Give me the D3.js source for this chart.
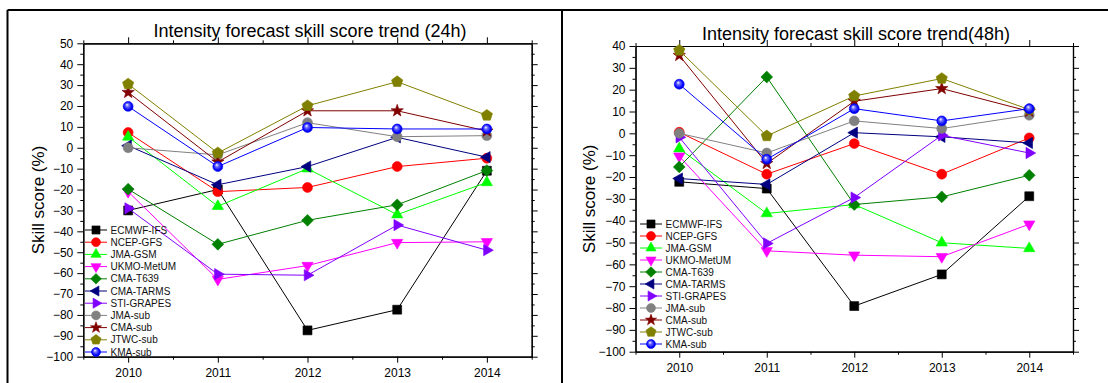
<!DOCTYPE html>
<html><head><meta charset="utf-8">
<script src="https://cdn.jsdelivr.net/npm/d3@7"></script>
<style>
html,body{margin:0;padding:0;background:#fff;}
svg{display:block;font-family:"Liberation Sans",Arial,sans-serif;}
</style></head>
<body>
<svg id="chart" width="1108" height="383"></svg>
<script>
// ---------- data ----------
const years = [2010, 2011, 2012, 2013, 2014];
const seriesNames = ["ECMWF-IFS","NCEP-GFS","JMA-GSM","UKMO-MetUM","CMA-T639","CMA-TARMS","STI-GRAPES","JMA-sub","CMA-sub","JTWC-sub","KMA-sub"];
const seriesColors = ["#000000","#ff0000","#00ff00","#ff00ff","#008000","#000080","#8000ff","#808080","#800000","#808000","#0000ff"];
const seriesMarkers = ["square","circle","triUp","triDown","diamond","triLeft","triRight","circle","star","pentagon","sphere"];

// 24h skill scores (%)
const ecmwf24 = [-30, -20, -87.4, -77.5, -11];
const ncep24  = [7.3, -21, -19, -9, -5];
const jmaGsm24 = [5.2, -28, -10, -32, -16.6];
const ukmo24  = [-21, -63, -56.4, -45.4, -45];
const t639_24 = [-19.8, -46.2, -34.7, -27.3, -10.9];
const tarms24 = [1, -17.7, -9, 5, -4.5];
const grapes24 = [-29, -60.5, -61, -37, -49];
const jmaSub24 = [0, -3.4, 12, 5.3, 5.8];
const cmaSub24 = [26.5, -6.8, 17.7, 17.7, 8];
const jtwc24  = [30.5, -2.5, 20.1, 31.6, 15.5];
const kma24   = [19.8, -9, 9.7, 9, 9];

// 48h skill scores (%)
const ecmwf48 = [-22.2, -25.3, -79.1, -64.6, -28.8];
const ncep48  = [0.5, -18.7, -4.7, -18.7, -2.1];
const jmaGsm48 = [-7, -36.7, -32.6, -50.1, -52.7];
const ukmo48  = [-10.5, -53.8, -55.8, -56.5, -41.6];
const t639_48 = [-15.4, 25.8, -32.6, -29.1, -19.2];
const tarms48 = [-20.7, -23.4, 0.3, -1.6, -4.4];
const grapes48 = [-1.8, -50.4, -29.4, -0.9, -9];
const jmaSub48 = [0, -9, 5.7, 2.2, 8.3];
const cmaSub48 = [35.7, -13.8, 14.7, 20.5, 10.1];
const jtwc48  = [38, -1.2, 17.1, 25.1, 10.9];
const kma48   = [22.5, -11.9, 11.3, 5.7, 11.3];

const values24 = [ecmwf24, ncep24, jmaGsm24, ukmo24, t639_24, tarms24, grapes24, jmaSub24, cmaSub24, jtwc24, kma24];
const values48 = [ecmwf48, ncep48, jmaGsm48, ukmo48, t639_48, tarms48, grapes48, jmaSub48, cmaSub48, jtwc48, kma48];

const title24 = "Intensity forecast skill score trend (24h)";
const title48 = "Intensity forecast skill score trend(48h)";
const yLabel = "Skill score (%)";
const yTicks24 = [50,40,30,20,10,0,-10,-20,-30,-40,-50,-60,-70,-80,-90,-100];
const yTicks48 = [40,30,20,10,0,-10,-20,-30,-40,-50,-60,-70,-80,-90,-100];

// ---------- marker shapes (custom d3 symbol types; size = radius) ----------
function poly(ctx, pts){ ctx.moveTo(pts[0][0], pts[0][1]); for (let i=1;i<pts.length;i++) ctx.lineTo(pts[i][0], pts[i][1]); ctx.closePath(); }
function regular(r, n, startDeg){ const p=[]; for(let i=0;i<n;i++){const a=(startDeg+360*i/n)*Math.PI/180; p.push([r*Math.cos(a), r*Math.sin(a)]);} return p; }
const shapes = {
  square: {draw(ctx,r){ const h=r*0.72; poly(ctx,[[-h,-h],[h,-h],[h,h],[-h,h]]); }},
  circle: {draw(ctx,r){ const c=r*0.8; ctx.moveTo(c,0); ctx.arc(0,0,c,0,2*Math.PI); }},
  sphere: {draw(ctx,r){ const c=r*0.8; ctx.moveTo(c,0); ctx.arc(0,0,c,0,2*Math.PI); }},
  triUp: {draw(ctx,r){ poly(ctx, regular(r*1.05,3,-90)); }},
  triDown: {draw(ctx,r){ poly(ctx, regular(r*1.05,3,90)); }},
  triLeft: {draw(ctx,r){ poly(ctx, regular(r*1.05,3,180)); }},
  triRight: {draw(ctx,r){ poly(ctx, regular(r*1.05,3,0)); }},
  diamond: {draw(ctx,r){ const d=r*0.95; poly(ctx,[[0,-d],[d,0],[0,d],[-d,0]]); }},
  pentagon: {draw(ctx,r){ poly(ctx, regular(r*0.95,5,-90)); }},
  star: {draw(ctx,r){ const p=[]; for(let i=0;i<10;i++){const rr=i%2?r*0.42:r*1.05; const a=(-90+36*i)*Math.PI/180; p.push([rr*Math.cos(a), rr*Math.sin(a)]);} poly(ctx,p); }}
};

const svg = d3.select("#chart");
const defs = svg.append("defs");
const grad = defs.append("radialGradient").attr("id","sphereGrad").attr("cx","50%").attr("cy","50%").attr("r","55%").attr("fx","38%").attr("fy","32%");
grad.append("stop").attr("offset","0%").attr("stop-color","#ffffff");
grad.append("stop").attr("offset","30%").attr("stop-color","#6f6fff");
grad.append("stop").attr("offset","75%").attr("stop-color","#0000ff");
grad.append("stop").attr("offset","100%").attr("stop-color","#0000c0");

// outer frames
svg.append("line").attr("x1",7.5).attr("x2",1108).attr("y1",10).attr("y2",10).attr("stroke","#000").attr("stroke-width",2);
svg.append("line").attr("x1",7.5).attr("x2",7.5).attr("y1",10).attr("y2",383).attr("stroke","#000").attr("stroke-width",2);
svg.append("line").attr("x1",562).attr("x2",562).attr("y1",10).attr("y2",383).attr("stroke","#000").attr("stroke-width",2);

function drawMarker(g, name, color, x, y, r){
  const sym = d3.symbol().type(shapes[name]).size(r);
  g.append("path").attr("d", sym()).attr("transform", `translate(${x},${y})`)
    .attr("fill", name === "sphere" ? "url(#sphereGrad)" : color)
    .attr("stroke", name === "sphere" ? "#0000ff" : color).attr("stroke-width", 0.6);
}

function drawPanel(cfg){
  const x = d3.scaleLinear().domain([2009.5, 2014.5]).range([cfg.left, cfg.right]);
  const y = d3.scaleLinear().domain([cfg.yMin, cfg.yMax]).range([cfg.bottom, cfg.top]);
  const g = svg.append("g");
  const minorY = d3.range(cfg.yMin, cfg.yMax + 0.1, 5).filter(v => v % 10 !== 0);
  const minorX = [2009.5, 2010.5, 2011.5, 2012.5, 2013.5, 2014.5];

  const styleAxis = sel => { sel.select(".domain").attr("stroke","#000").attr("stroke-width",1.2); sel.selectAll(".tick line").attr("stroke","#000"); sel.selectAll("text").attr("font-family","Liberation Sans, Arial, sans-serif").attr("font-size",12).attr("fill","#000"); };

  // left axis
  g.append("g").attr("transform",`translate(${cfg.left},0)`)
    .call(d3.axisLeft(y).tickValues(cfg.yTicks).tickSize(6).tickSizeOuter(0).tickPadding(4).tickFormat(d3.format("d"))).call(styleAxis);
  g.append("g").attr("transform",`translate(${cfg.left},0)`)
    .call(d3.axisLeft(y).tickValues(minorY).tickSize(3).tickSizeOuter(0).tickFormat("")).call(styleAxis);
  // right axis
  g.append("g").attr("transform",`translate(${cfg.right},0)`)
    .call(d3.axisRight(y).tickValues(cfg.yTicks).tickSize(6).tickSizeOuter(0).tickFormat("")).call(styleAxis);
  g.append("g").attr("transform",`translate(${cfg.right},0)`)
    .call(d3.axisRight(y).tickValues(minorY).tickSize(3).tickSizeOuter(0).tickFormat("")).call(styleAxis);
  // bottom axis
  g.append("g").attr("transform",`translate(0,${cfg.bottom})`)
    .call(d3.axisBottom(x).tickValues(years).tickSize(6).tickSizeOuter(0).tickPadding(6).tickFormat(d3.format("d"))).call(styleAxis);
  g.append("g").attr("transform",`translate(0,${cfg.bottom})`)
    .call(d3.axisBottom(x).tickValues(minorX).tickSize(3).tickSizeOuter(0).tickFormat("")).call(styleAxis);
  // top axis
  g.append("g").attr("transform",`translate(0,${cfg.top})`)
    .call(d3.axisTop(x).tickValues(years).tickSize(6).tickSizeOuter(0).tickFormat("")).call(styleAxis);
  g.append("g").attr("transform",`translate(0,${cfg.top})`)
    .call(d3.axisTop(x).tickValues(minorX).tickSize(3).tickSizeOuter(0).tickFormat("")).call(styleAxis);

  // title
  g.append("text").attr("x",cfg.titleX).attr("y",cfg.titleY).attr("text-anchor","middle")
    .attr("font-size",18).attr("fill","#000").text(cfg.title);
  // y label
  g.append("text").attr("transform",`translate(${cfg.yLabelX},${(cfg.top+cfg.bottom)/2}) rotate(-90)`)
    .attr("text-anchor","middle").attr("dy","0.35em").attr("font-size",17).attr("fill","#000").text(yLabel);

  // series
  const line = d3.line().x((d,i)=>x(years[i])).y(d=>y(d));
  cfg.values.forEach((vals, si) => {
    g.append("path").attr("d", line(vals)).attr("fill","none").attr("stroke", seriesColors[si]).attr("stroke-width",1);
    vals.forEach((v,i) => drawMarker(g, seriesMarkers[si], seriesColors[si], x(years[i]), y(v), 6.2));
  });

  // legend
  const lg = g.append("g");
  seriesNames.forEach((nm, si) => {
    const ly = cfg.legY + si*cfg.legStep;
    lg.append("line").attr("x1",cfg.legX).attr("x2",cfg.legX+22).attr("y1",ly).attr("y2",ly).attr("stroke",seriesColors[si]).attr("stroke-width",1);
    drawMarker(lg, seriesMarkers[si], seriesColors[si], cfg.legX+11, ly, 5.6);
    lg.append("text").attr("x",cfg.legX+25.5).attr("y",ly).attr("dy","0.35em").attr("font-size",10).attr("fill","#111").text(nm);
  });
}

drawPanel({left:83.3, right:531.7, top:43.3, bottom:356.7, yMin:-100, yMax:50, yTicks:yTicks24,
  values:values24, title:title24, titleX:310, titleY:36.5, yLabelX:38, legX:85, legY:230, legStep:12.2});
drawPanel({left:635.5, right:1073, top:46, bottom:351.7, yMin:-100, yMax:40, yTicks:yTicks48,
  values:values48, title:title48, titleX:856, titleY:40, yLabelX:589, legX:640, legY:224, legStep:12});
</script>
</body></html>
